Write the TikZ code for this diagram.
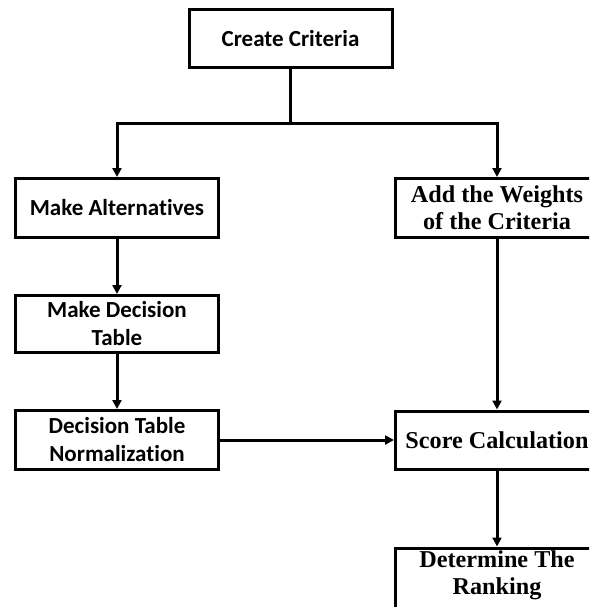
\documentclass[tikz,border=0pt]{standalone}
\usepackage{fontspec}
\newfontfamily\calib[Ligatures=NoCommon]{Carlito}
\newfontfamily\timesb{Liberation Serif}
\usetikzlibrary{arrows.meta}
\tikzset{
  box/.style={draw, line width=3pt, minimum width=203pt, align=center, inner sep=0pt},
  lbox/.style={box, font=\calib\bfseries\fontsize{23}{28}\selectfont},
  rbox/.style={box, font=\timesb\bfseries\fontsize{24.2}{27}\selectfont},
  conn/.style={line width=3pt, -{Triangle[length=9pt,width=9pt]}},
  plain/.style={line width=3pt}
}
\begin{document}
\begin{tikzpicture}[x=1pt,y=-1pt]
\useasboundingbox (0,0) rectangle (589,607);
\clip (0,0) rectangle (589,607);
\node[lbox, minimum height=58pt] (cc) at (290.5,38.5) {Create Criteria};
\node[lbox, minimum height=59pt] (ma) at (117,208) {Make Alternatives};
\node[rbox, minimum height=59pt] (aw) at (497,208) {Add the Weights\\of the Criteria};
\node[lbox, minimum height=57pt] (md) at (117,324) {Make Decision\\Table};
\node[lbox, minimum height=59pt] (dn) at (117,440) {Decision Table\\Normalization};
\node[rbox, minimum height=58pt] (sc) at (497,440) {Score Calculation};
\node[box, minimum height=62pt] (dr) at (497,579) {};
\node[rbox, draw=none, minimum height=0pt] (drt) at (497,575) {Determine The\\Ranking};
\coordinate (br) at (290.5,123);
\draw[plain] (cc.south) -- (br);
\draw[conn] (br) -| (ma.north);
\draw[conn] (br) -| (aw.north);
\draw[conn] (ma.south) -- (md.north);
\draw[conn] (md.south) -- (dn.north);
\draw[conn] (dn.east) -- (sc.west);
\draw[conn] (aw.south) -- (sc.north);
\draw[conn] (sc.south) -- (dr.north);
\end{tikzpicture}
\end{document}
